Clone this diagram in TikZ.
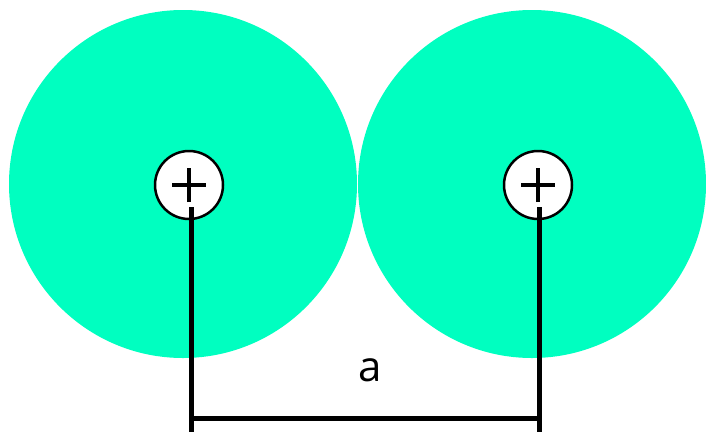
\documentclass[tikz,border=0pt]{standalone}
\usepackage{fontspec}
\setmainfont{Open Sans}
\definecolor{atomgreen}{RGB}{0,255,192}
\begin{document}
\begin{tikzpicture}[x=1pt,y=-1pt,
  cloud/.style={circle,fill=atomgreen,minimum size=348pt,inner sep=0pt},
  nucleus/.style={circle,draw=black,line width=2.5pt,fill=white,minimum size=68pt,inner sep=0pt},
  bond/.style={line width=5pt}]
\useasboundingbox (0,0) rectangle (706,432);
\node[cloud] (c1) at (183,184) {};
\node[cloud] (c2) at (532,184) {};
\node[nucleus] (n1) at (189,185) {};
\node[nucleus] (n2) at (538,185) {};
\draw[line width=4pt] ([xshift=-17pt]n1.center) -- ([xshift=17pt]n1.center)
  ([yshift=-17pt]n1.center) -- ([yshift=17pt]n1.center);
\draw[line width=4pt] ([xshift=-17pt]n2.center) -- ([xshift=17pt]n2.center)
  ([yshift=-17pt]n2.center) -- ([yshift=17pt]n2.center);
\coordinate (b1) at (191,432);
\coordinate (b2) at (539,432);
\coordinate (t1) at (191,207);
\coordinate (t2) at (539,207);
\draw[bond] (t1) -- (b1);
\draw[bond] (t2) -- (b2);
\draw[bond] (t1|-0,418) -- (t2|-0,418);
\node[font=\fontsize{42}{50}\selectfont] (a) at (370,370) {a};
\end{tikzpicture}
\end{document}
